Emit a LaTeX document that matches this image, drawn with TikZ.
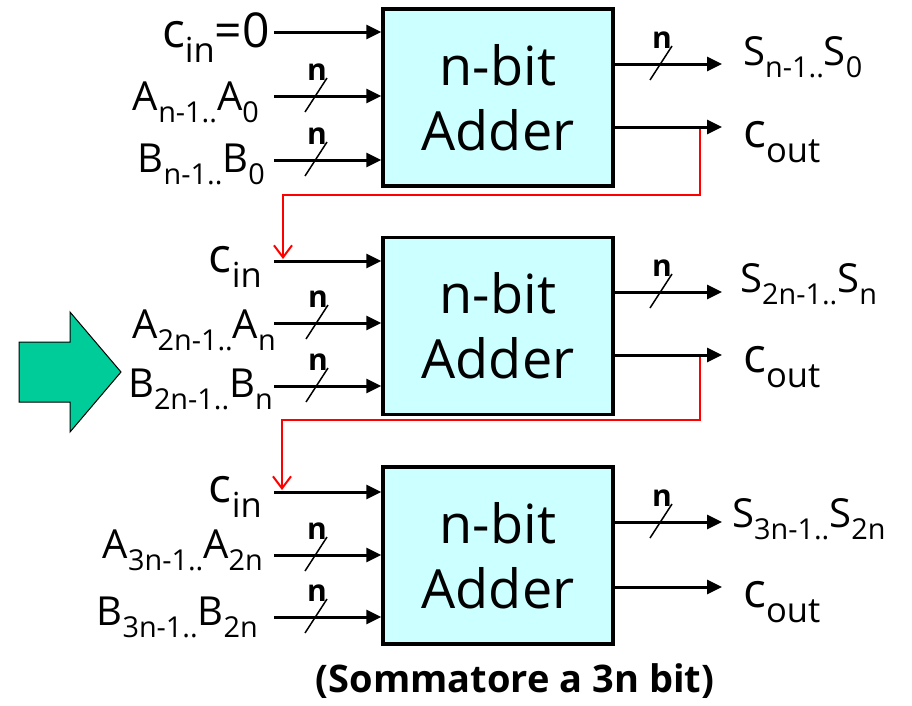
\documentclass[tikz,border=0pt]{standalone}
\usepackage{fontspec}
\setmainfont{Open Sans}
\usetikzlibrary{arrows.meta}
\definecolor{boxfill}{HTML}{CCFFFF}
\definecolor{arrowgreen}{HTML}{00CC99}
\newcommand{\subx}[1]{\raisebox{-0.32em}{\scalebox{0.72}{#1}}}
\newcommand{\fsz}[1]{\fontsize{#1}{#1}\selectfont}
\begin{document}
\begin{tikzpicture}[x=1pt,y=-1pt,
  adder/.style={draw,line width=3.5pt,fill=boxfill,minimum width=230pt,minimum height=177pt,inner sep=0pt,align=center,font=\fontsize{54}{65}\selectfont},
  sig/.style={line width=3pt,-{Triangle[length=15pt,width=14pt]}},
  carry/.style={red,line width=2pt,-{Straight Barb[length=12pt,width=18pt]}},
  lbl/.style={inner sep=0pt,font=\fsz{40}},
  clbl/.style={inner sep=0pt,font=\fsz{48}},
  bus/.pic={\draw[line width=1.5pt] (-11,16) -- (11,-18); \node[font=\bfseries\fsz{30},inner sep=0pt] at (1,-24) {n};}
]
\useasboundingbox (0,0) rectangle (912,705);
% green arrow
\draw[fill=arrowgreen,line width=1pt] (19,342) -- (70,342) -- (70,312) -- (121,372) -- (70,432) -- (70,402) -- (19,402) -- cycle;
% boxes
\node[adder] (b1) at (498,97.5) {n-bit\\Adder};
\node[adder] (b2) at (498,326) {n-bit\\Adder};
\node[adder] (b3) at (498,555.5) {n-bit\\Adder};
% input coordinates
\coordinate (i11) at (274,32);
\coordinate (i12) at (274,96);
\coordinate (i13) at (274,160);
\coordinate (i21) at (274,261);
\coordinate (i22) at (274,323);
\coordinate (i23) at (274,386);
\coordinate (i31) at (274,492);
\coordinate (i32) at (274,555);
\coordinate (i33) at (274,617);
% output coordinates
\coordinate (o11) at (722,64);
\coordinate (o12) at (722,127);
\coordinate (o21) at (722,292);
\coordinate (o22) at (722,355);
\coordinate (o31) at (722,522);
\coordinate (o32) at (722,587);
\foreach \b in {1,2,3}{
  \foreach \k in {1,2,3}{\draw[sig] (i\b\k) -- (i\b\k -| b\b.west);}
  \foreach \k in {1,2}{\draw[sig] (o\b\k -| b\b.east) -- (o\b\k);}
}
% buses
\pic at (316,96) {bus};
\pic at (316,160) {bus};
\pic at (317,323) {bus};
\pic at (317,386) {bus};
\pic at (316,555) {bus};
\pic at (316,617) {bus};
\pic at (661,64) {bus};
\pic at (661,292) {bus};
\pic at (661,522) {bus};
% carry chain
\coordinate (r1) at (700,129);
\coordinate (t2) at (283,259);
\coordinate (r2) at (700,357);
\coordinate (t3) at (282,490);
\draw[carry] (r1) -- (700,195) -| (t2);
\draw[carry] (r2) -- (700,420) -| (t3);
% left labels
\node[clbl,anchor=base east] (l11) at (270,47) {c\subx{in}=0};
\node[lbl,anchor=base east] (l12) at (259,110) {A\subx{n-1..}A\subx{0}};
\node[lbl,anchor=base east] (l13) at (265,172) {B\subx{n-1..}B\subx{0}};
\node[clbl,anchor=base east] (l21) at (262,272) {c\subx{in}};
\node[lbl,anchor=base east] (l22) at (276,338) {A\subx{2n-1..}A\subx{n}};
\node[lbl,anchor=base east] (l23) at (273,397) {B\subx{2n-1..}B\subx{n}};
\node[clbl,anchor=base east] (l31) at (262,502) {c\subx{in}};
\node[lbl,anchor=base east] (l32) at (263,558) {A\subx{3n-1..}A\subx{2n}};
\node[lbl,anchor=base east] (l33) at (258,625) {B\subx{3n-1..}B\subx{2n}};
% right labels
\node[lbl,anchor=base west] (r11) at (743,65) {S\subx{n-1..}S\subx{0}};
\node[clbl,anchor=base west] (r12) at (743,147) {c\subx{out}};
\node[lbl,anchor=base west] (r21) at (740,292) {S\subx{2n-1..}S\subx{n}};
\node[clbl,anchor=base west] (r22) at (743,372) {c\subx{out}};
\node[lbl,anchor=base west] (r31) at (732,527) {S\subx{3n-1..}S\subx{2n}};
\node[clbl,anchor=base west] (r32) at (743,607) {c\subx{out}};
% caption
\node[font=\bfseries\fsz{38},inner sep=0pt,anchor=base] (cap) at (515,692) {(Sommatore a 3n bit)};
\end{tikzpicture}
\end{document}
